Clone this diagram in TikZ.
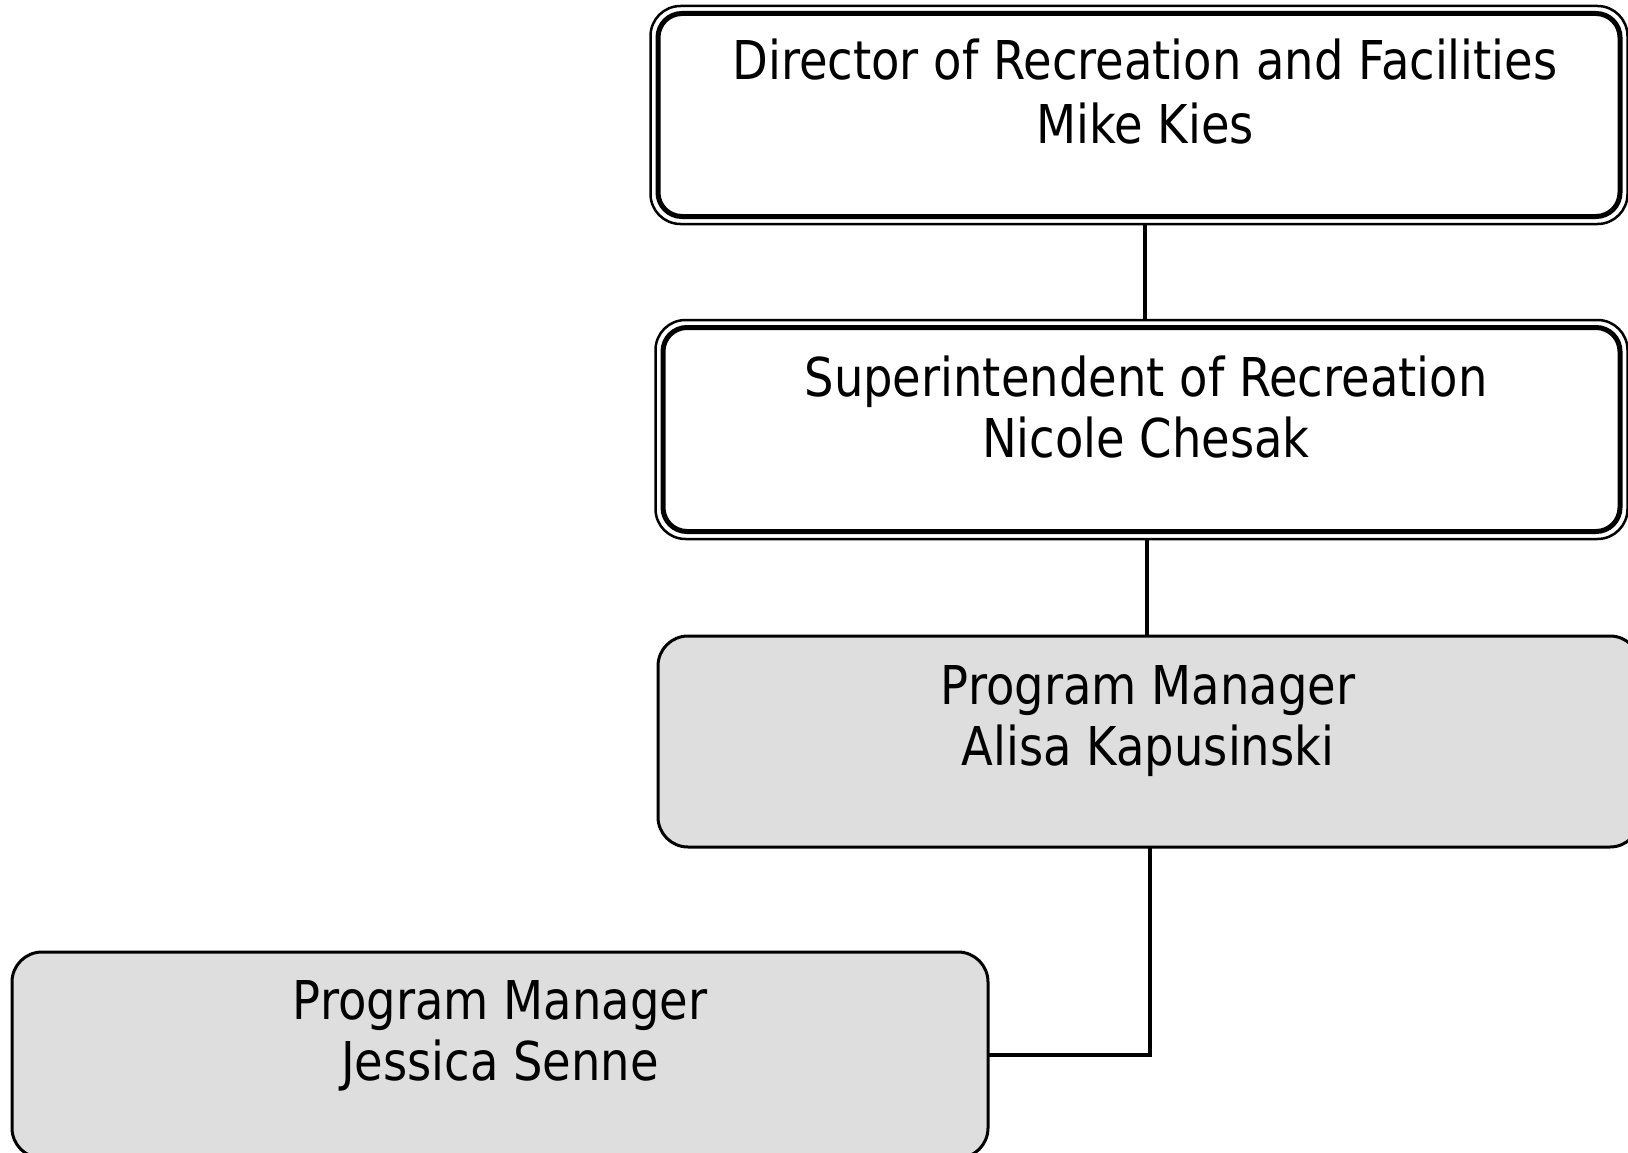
\documentclass[tikz,border=0pt]{standalone}
\usepackage{fontspec}
\setmainfont{DejaVu Sans}[FakeStretch=0.868]
\definecolor{boxgray}{RGB}{222,222,222}
\begin{document}
\begin{tikzpicture}[x=1pt,y=-1pt,
  box/.style={rectangle, rounded corners=30pt, inner sep=0pt, outer sep=0pt, draw=black},
  lbl/.style={anchor=base, inner sep=0pt, font=\fontsize{53.5}{63}\selectfont},
  conn/.style={line width=4.5pt}]
\useasboundingbox (0,0) rectangle (1628,1153);
\clip (0,0) rectangle (1628,1153);
% boxes
\node[box, line width=2.5pt, minimum width=977pt, minimum height=218pt] (b1) at (1139,115) {};
\draw[line width=5pt, rounded corners=24pt] ([shift={(7.5,7.5)}]b1.north west) rectangle ([shift={(-7.5,-7.5)}]b1.south east);
\node[box, line width=2.5pt, minimum width=972pt, minimum height=219pt] (b2) at (1141.5,429.5) {};
\draw[line width=5pt, rounded corners=24pt] ([shift={(7.5,7.5)}]b2.north west) rectangle ([shift={(-7.5,-7.5)}]b2.south east);
\node[box, line width=3pt, fill=boxgray, minimum width=982pt, minimum height=211pt] (b3) at (1149,741.5) {};
\node[box, line width=3pt, fill=boxgray, minimum width=976pt, minimum height=206pt] (b4) at (500,1055) {};
% connectors
\coordinate (k1) at (1145,0);
\coordinate (k2) at (1147,0);
\coordinate (k3) at (1150,0);
\draw[conn] (b1.south -| k1) -- (b2.north -| k1);
\draw[conn] (b2.south -| k2) -- (b3.north -| k2);
\draw[conn] (b3.south -| k3) |- (b4.east);
% labels
\node[lbl] (t1a) at (1145,80) {Director of Recreation and Facilities};
\node[lbl] (t1b) at (1145,143) {Mike Kies};
\node[lbl] (t2a) at (1146,396) {Superintendent of Recreation};
\node[lbl] (t2b) at (1146,457) {Nicole Chesak};
\node[lbl] (t3a) at (1148,704) {Program Manager};
\node[lbl] (t3b) at (1148,765) {Alisa Kapusinski};
\node[lbl] (t4a) at (500,1019) {Program Manager};
\node[lbl] (t4b) at (500,1080) {Jessica Senne};
\end{tikzpicture}
\end{document}
